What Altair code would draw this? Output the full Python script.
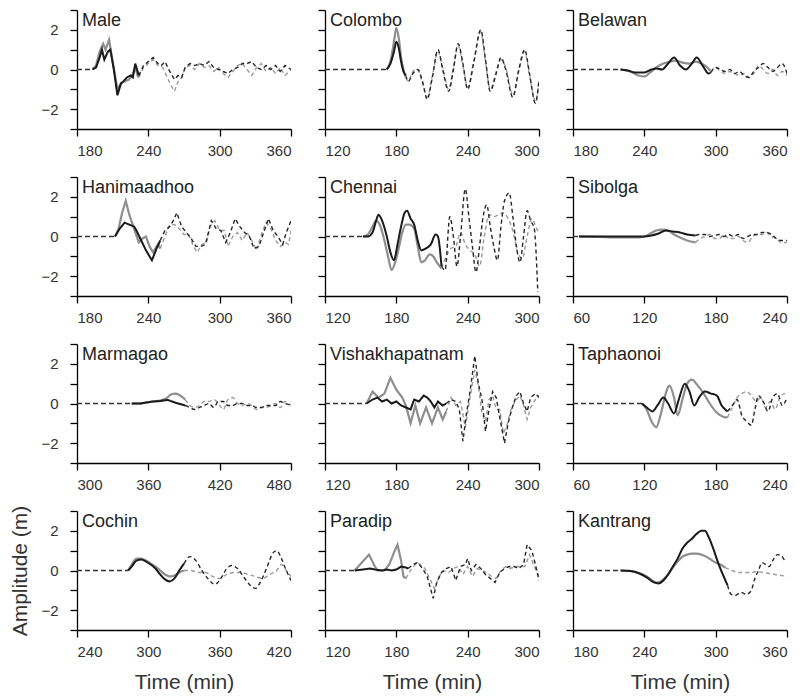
import altair as alt
import pandas as pd

STATIONS = ["Male", "Colombo", "Belawan", "Hanimaadhoo", "Chennai", "Sibolga",
            "Marmagao", "Vishakhapatnam", "Taphaonoi", "Cochin", "Paradip", "Kantrang"]
X_START = [180, 120, 180, 180, 120, 60, 300, 120, 60, 240, 120, 180]
LEAD_END = [193, 172, 220, 212, 152, 65, 346, 155, 118, 283, 145, 220]
SMOOTH = [False, True, True, False, True, True, True, False, True, True, False, True]

# ---- Male ----
MALE_BLACK = [(193,0),(196,0.1),(199,0.6),(201,1.0),(203,0.5),(206,0.9),(208,1.0),(211,0.0),(214,-1.3),(217,-0.7),(219,-0.6),(222,-0.4),(225,-0.3),(227,-0.4),(229,0.3),(231,-0.1),(232,-0.3)]
MALE_GRAY = [(193,0),(196,0.2),(199,0.9),(202,1.3),(204,1.0),(207,1.5),(210,0.4),(214,-1.0),(217,-0.7),(220,-0.6),(224,-0.5),(227,-0.2),(229,0.1),(231,-0.3),(232,-0.4)]
MALE_OBS_BLACK = [(232,-0.3),(236,0.2),(240,0.4),(244,0.6),(248,0.3),(251,0.2),(254,0.4),(258,-0.1),(262,-0.5),(265,-0.3),(268,-0.4),(271,0.1),(275,0.3),(279,0.2),(283,0.3),(287,0.2),(291,0.4),(295,0.1),(299,0.0),(303,-0.1),(307,-0.2),(311,0.0),(315,0.1),(319,0.3),(323,0.3),(327,0.4),(331,0.1),(335,0.0),(339,0.2),(343,0.0),(347,0.2),(351,-0.1),(355,0.2),(360,0.0)]
MALE_OBS_GRAY = [(232,-0.4),(236,0.1),(240,0.3),(244,0.5),(248,0.2),(252,0.1),(256,-0.4),(259,-0.8),(262,-1.1),(265,-0.6),(268,-0.4),(271,0.1),(275,0.2),(279,0.0),(283,0.3),(287,0.1),(291,0.2),(295,-0.1),(299,0.1),(303,-0.2),(307,-0.4),(311,-0.1),(315,0.2),(319,0.3),(323,0.0),(327,-0.3),(331,0.1),(335,0.3),(339,-0.1),(343,0.1),(347,-0.2),(351,0.1),(355,-0.3),(360,0.0)]

# ---- Colombo ----
COLOMBO_BLACK = [(172,0),(175,0.3),(178,0.9),(180,1.4),(182,1.1),(184,0.4),(186,-0.1),(188,-0.3)]
COLOMBO_GRAY = [(172,0),(175,0.4),(178,1.4),(180,2.1),(182,1.6),(184,0.6),(186,0.0),(188,-0.4)]
COLOMBO_OBS_BLACK = [(188,-0.3),(190,-0.6),(194,-0.2),(198,0.0),(202,-0.6),(206,-1.5),(210,-0.5),(215,1.0),(219,0.0),(224,-1.1),(228,0.0),(232,1.3),(236,0.3),(240,-1.0),(245,0.3),(251,2.0),(255,0.5),(259,-1.1),(264,-0.2),(268,0.6),(272,0.0),(278,-1.4),(283,0.0),(288,1.0),(292,-0.2),(297,-1.7),(300,-0.5)]
COLOMBO_OBS_GRAY = [(188,-0.4),(190,-0.6),(194,-0.1),(198,0.0),(202,-0.7),(206,-1.4),(210,-0.4),(215,0.9),(219,0.1),(224,-1.0),(228,0.1),(232,1.2),(236,0.2),(240,-0.9),(245,0.4),(251,1.9),(255,0.4),(259,-1.0),(264,-0.1),(268,0.5),(272,0.1),(278,-1.3),(283,-0.1),(288,0.9),(292,-0.3),(297,-1.6),(300,-0.6)]

# ---- Belawan ----
BELAWAN_BLACK = [(220,0),(226,-0.05),(232,-0.15),(240,-0.15),(246,0.0),(250,0.05),(255,0.0),(260,0.3),(265,0.6),(270,0.2),(275,0.0),(280,0.3),(284,0.6),(289,0.2),(294,-0.2),(296,-0.15)]
BELAWAN_GRAY = [(220,0),(228,-0.1),(235,-0.3),(240,-0.35),(245,-0.15),(250,0.1),(256,0.3),(262,0.4),(266,0.45),(272,0.35),(278,0.3),(283,0.4),(288,0.3),(293,0.1),(296,-0.1)]
BELAWAN_OBS_BLACK = [(296,-0.15),(300,0.1),(304,0.0),(308,-0.1),(312,0.0),(316,-0.2),(320,-0.1),(324,-0.3),(328,-0.4),(332,-0.1),(336,0.1),(340,0.3),(344,0.1),(348,-0.1),(352,0.1),(356,0.3),(360,-0.2)]
BELAWAN_OBS_GRAY = [(296,-0.1),(300,0.1),(304,-0.1),(308,-0.2),(312,-0.1),(316,-0.2),(320,-0.3),(324,-0.2),(328,-0.4),(332,-0.2),(336,0.2),(340,0.0),(344,-0.2),(348,0.0),(352,-0.3),(356,-0.1),(360,-0.3)]

# ---- Hanimaadhoo ----
HANI_BLACK = [(212,0),(216,0.4),(220,0.7),(224,0.6),(228,0.5),(230,0.3),(234,-0.2),(238,-0.7),(243,-1.2),(247,-0.6),(250,-0.2)]
HANI_GRAY = [(212,0),(215,0.4),(218,1.2),(221,1.8),(224,1.1),(228,0.4),(232,-0.3),(235,-0.1),(238,0.0),(241,-0.5),(244,-0.8),(248,-0.4),(250,-0.6)]
HANI_OBS_BLACK = [(250,-0.2),(254,0.3),(258,0.5),(261,0.8),(264,1.2),(268,0.5),(272,0.2),(276,-0.1),(280,-0.5),(284,-0.5),(288,-0.4),(293,0.8),(297,0.4),(301,0.3),(305,-0.3),(309,0.2),(313,0.9),(317,0.5),(321,0.2),(325,0.0),(329,-0.6),(333,-0.5),(337,0.2),(341,0.9),(345,0.3),(349,0.0),(353,-0.4),(356,0.2),(360,0.8)]
HANI_OBS_GRAY = [(250,-0.6),(254,0.0),(258,0.6),(262,0.6),(266,0.4),(270,0.1),(274,0.1),(278,-0.5),(281,-0.8),(285,-0.4),(289,-0.3),(292,0.5),(296,0.8),(300,0.3),(304,0.3),(307,-0.5),(311,0.0),(315,0.2),(319,-0.2),(323,0.2),(327,-0.2),(331,-0.7),(335,0.1),(339,0.7),(343,0.4),(347,-0.2),(351,-0.5),(355,-0.3),(358,-0.4),(360,0.3)]

# ---- Chennai ----
CHENNAI_BLACK = [(152,0),(156,0.0),(160,0.2),(163,0.8),(165,1.1),(168,0.8),(172,0.0),(175,-0.8),(178,-1.2),(181,-0.4),(184,0.5),(187,1.2),(189,1.3),(192,0.9),(195,0.6),(198,-0.2),(201,-0.7),(205,-0.6),(209,-0.4),(213,0.1),(215,0.0),(218,-1.5)]
CHENNAI_GRAY = [(152,0),(156,0.1),(160,0.5),(163,0.8),(166,0.6),(170,-0.2),(173,-1.0),(176,-1.7),(179,-1.3),(182,-0.6),(185,0.2),(188,0.6),(191,0.6),(195,0.4),(198,-0.5),(201,-1.3),(204,-1.2),(208,-0.9),(211,-1.0),(214,-1.3),(218,-1.6)]
CHENNAI_OBS_BLACK = [(218,-1.5),(221,-1.7),(225,1.0),(228,0.0),(231,-1.5),(234,0.0),(238,2.4),(241,1.0),(244,-0.5),(247,-1.8),(250,-0.5),(253,1.0),(256,1.6),(259,0.5),(262,-0.5),(265,-1.2),(268,0.5),(271,1.8),(275,2.2),(278,1.0),(281,-0.5),(284,-1.3),(287,0.0),(290,1.3),(293,0.8),(296,0.4),(299,-2.8)]
CHENNAI_OBS_GRAY = [(218,-1.6),(222,-1.0),(226,-0.6),(230,-0.5),(234,0.2),(238,-0.4),(242,-0.7),(246,-0.9),(250,-1.5),(254,0.0),(258,1.1),(262,1.0),(266,1.1),(270,1.2),(274,0.9),(278,0.3),(282,-0.8),(286,-1.1),(290,0.0),(294,0.9),(298,0.4),(300,0.2)]

# ---- Sibolga ----
SIBOLGA_BLACK = [(65,0),(80,0),(100,0),(115,0),(120,0.0),(126,0.05),(132,0.15),(138,0.3),(144,0.25),(150,0.2),(156,0.1),(163,0.05)]
SIBOLGA_GRAY = [(65,0),(80,-0.02),(100,-0.05),(115,-0.05),(120,0.0),(125,0.15),(130,0.3),(135,0.35),(140,0.3),(145,0.1),(150,-0.05),(156,-0.2),(163,-0.3)]
SIBOLGA_OBS_BLACK = [(163,0.05),(167,0.1),(171,0.1),(175,0.0),(179,0.05),(183,0.1),(187,0.0),(191,0.1),(195,0.0),(199,0.1),(203,-0.1),(207,0.0),(211,0.1),(215,0.1),(219,0.2),(223,0.2),(227,0.1),(231,-0.1),(235,-0.2),(240,-0.2)]
SIBOLGA_OBS_GRAY = [(163,-0.3),(167,-0.1),(171,0.0),(175,0.1),(179,-0.1),(183,-0.1),(187,0.1),(191,-0.1),(195,-0.1),(199,0.0),(203,-0.2),(207,-0.3),(211,0.0),(215,0.1),(219,0.1),(223,0.2),(227,0.0),(231,-0.1),(235,-0.3),(240,-0.3)]

# ---- Marmagao ----
MARMAGAO_BLACK = [(346,0),(352,0.0),(358,0.05),(364,0.1),(370,0.12),(376,0.18),(380,0.1),(385,0.0),(391,-0.1)]
MARMAGAO_GRAY = [(346,0),(352,0.0),(358,0.05),(364,0.1),(370,0.15),(375,0.25),(379,0.45),(383,0.5),(387,0.4),(391,0.2)]
MARMAGAO_OBS_BLACK = [(391,-0.1),(395,-0.2),(399,-0.3),(403,-0.2),(407,-0.1),(411,0.0),(415,-0.2),(419,0.1),(423,0.1),(427,-0.1),(431,-0.1),(435,0.0),(439,0.0),(443,-0.1),(447,-0.1),(451,-0.2),(455,-0.2),(459,-0.1),(463,-0.1),(467,-0.1),(471,0.1),(475,0.0),(480,-0.1)]
MARMAGAO_OBS_GRAY = [(391,0.2),(395,-0.1),(399,-0.2),(403,-0.1),(407,0.1),(411,0.1),(415,0.2),(419,0.0),(423,-0.3),(427,0.2),(431,0.3),(435,0.0),(439,-0.1),(443,0.0),(447,-0.1),(451,-0.3),(455,-0.2),(459,-0.2),(463,-0.1),(467,0.0),(471,-0.2),(475,0.1),(480,-0.1)]

# ---- Vishakhapatnam ----
VISHA_BLACK = [(155,0),(160,0.2),(164,0.3),(168,0.1),(172,0.2),(176,0.0),(180,0.1),(184,-0.1),(188,-0.2),(192,-0.3),(195,0.2),(199,0.1),(203,0.4),(206,0.3),(209,0.1),(212,-0.2),(215,0.1),(219,-0.1),(222,0.0)]
VISHA_GRAY = [(155,0),(160,0.6),(165,0.3),(170,0.5),(175,1.3),(180,0.7),(185,0.3),(188,-0.1),(192,-1.0),(196,-0.1),(200,-1.0),(205,-0.2),(210,-1.0),(215,-0.2),(219,-0.8),(222,-0.4)]
VISHA_OBS_BLACK = [(222,0.0),(226,0.2),(230,0.1),(233,-0.3),(236,-1.9),(239,-0.5),(242,0.6),(246,2.4),(249,1.0),(252,0.2),(255,-1.4),(258,-0.3),(261,0.6),(264,0.3),(267,-0.7),(271,-2.0),(274,-1.0),(277,-0.3),(281,0.4),(284,0.6),(287,0.0),(290,-0.4),(293,0.3),(297,0.5),(300,0.3)]
VISHA_OBS_GRAY = [(222,-0.4),(226,0.3),(230,-0.1),(234,0.1),(238,-1.2),(242,0.3),(246,1.7),(249,0.9),(252,-0.5),(255,-0.9),(258,0.2),(261,0.4),(264,-0.3),(267,-0.3),(270,-1.5),(273,-1.1),(277,-0.2),(281,0.2),(284,0.4),(287,-0.1),(290,-0.8),(293,-0.2),(297,0.2),(300,0.4)]

# ---- Taphaonoi ----
TAPHA_BLACK = [(118,0),(122,-0.2),(127,-0.4),(131,-0.1),(136,0.3),(140,0.0),(145,-0.5),(149,0.2),(154,1.0),(158,0.6),(162,-0.1),(166,0.3),(171,0.6),(176,0.5),(181,0.4),(185,-0.1),(188,-0.3),(190,-0.4)]
TAPHA_GRAY = [(118,0),(122,-0.3),(126,-0.9),(130,-1.2),(134,-0.5),(138,0.5),(141,0.9),(145,0.3),(148,-0.6),(152,0.2),(156,1.0),(160,1.2),(165,0.9),(170,0.5),(175,0.0),(180,-0.4),(184,-0.6),(188,-0.7),(190,-0.7)]
TAPHA_OBS_BLACK = [(190,-0.4),(194,-0.1),(198,0.2),(202,-0.6),(206,-0.9),(210,-1.1),(213,-0.3),(216,0.4),(220,0.1),(224,-0.4),(228,0.3),(232,0.5),(236,-0.1),(240,0.3)]
TAPHA_OBS_GRAY = [(190,-0.7),(194,-0.2),(198,0.3),(202,0.5),(206,0.6),(210,0.4),(214,0.1),(218,0.3),(222,-0.2),(226,0.1),(230,-0.3),(234,0.3),(238,0.5),(240,0.4)]

# ---- Cochin ----
COCHIN_BLACK = [(283,0),(286,0.2),(290,0.5),(294,0.55),(298,0.45),(302,0.3),(306,0.1),(310,-0.2),(314,-0.45),(318,-0.55),(322,-0.4),(326,0.0),(330,0.35)]
COCHIN_GRAY = [(283,0),(286,0.3),(290,0.6),(294,0.6),(298,0.5),(302,0.35),(306,0.2),(310,0.0),(314,-0.2),(318,-0.3),(322,-0.25),(326,-0.1),(330,0.0)]
COCHIN_OBS_BLACK = [(330,0.35),(335,0.7),(340,0.5),(345,0.0),(350,-0.4),(356,-0.7),(361,-0.4),(366,0.1),(370,0.25),(375,0.1),(380,-0.3),(385,-0.7),(390,-0.9),(395,-0.5),(400,0.2),(405,0.9),(408,1.0),(412,0.6),(416,0.0),(420,-0.5)]
COCHIN_OBS_GRAY = [(330,0.0),(336,0.0),(342,-0.1),(348,-0.1),(354,-0.3),(360,-0.4),(366,-0.2),(372,-0.1),(378,-0.1),(384,-0.2),(390,-0.3),(396,-0.4),(402,-0.2),(408,0.0),(412,0.3),(416,0.0),(420,-0.3)]

# ---- Paradip ----
PARADIP_BLACK = [(145,0),(152,0.05),(158,0.1),(162,0.05),(168,0.0),(172,0.05),(176,0.0),(180,0.05),(184,0.2),(188,0.15),(190,0.1)]
PARADIP_GRAY = [(145,0),(151,0.4),(157,0.8),(162,0.2),(164,0.0),(170,0.0),(174,0.3),(178,0.9),(181,1.3),(184,0.5),(186,-0.3),(188,-0.4)]
PARADIP_OBS_BLACK = [(190,0.1),(194,0.3),(198,0.4),(202,0.1),(206,-0.3),(211,-1.4),(214,-0.6),(218,-0.1),(222,0.1),(226,0.2),(230,-0.5),(234,0.2),(238,0.3),(240,0.6),(243,0.0),(247,0.3),(251,0.1),(255,-0.2),(259,-0.4),(263,-0.6),(267,-0.1),(271,0.1),(275,0.2),(279,0.2),(283,0.1),(287,0.3),(290,1.3),(294,1.0),(297,0.3),(300,-0.5)]
PARADIP_OBS_GRAY = [(188,-0.4),(192,0.0),(197,0.4),(200,0.3),(204,0.1),(208,-0.4),(212,-0.9),(216,-0.3),(220,0.0),(224,-0.1),(228,0.1),(232,0.2),(236,-0.2),(240,0.2),(244,-0.3),(248,0.1),(252,0.0),(256,-0.1),(260,-0.3),(264,-0.4),(268,0.0),(272,0.2),(276,0.1),(280,0.2),(284,0.2),(288,0.2),(292,0.8),(296,0.2),(300,-0.3)]

# ---- Kantrang ----
KANTRANG_BLACK = [(220,0),(228,-0.02),(236,-0.15),(242,-0.35),(248,-0.6),(252,-0.65),(256,-0.5),(260,-0.2),(264,0.2),(268,0.6),(272,1.1),(276,1.4),(280,1.6),(284,1.85),(288,2.0),(291,2.0),(294,1.7),(298,1.1),(302,0.4),(306,-0.2),(310,-0.75)]
KANTRANG_GRAY = [(220,0),(228,-0.02),(236,-0.15),(242,-0.3),(248,-0.55),(252,-0.6),(256,-0.45),(260,-0.2),(264,0.15),(268,0.45),(272,0.7),(276,0.8),(280,0.85),(284,0.85),(288,0.8),(292,0.7),(296,0.55),(300,0.4),(304,0.3),(308,0.15)]
KANTRANG_OBS_BLACK = [(310,-0.75),(313,-1.2),(317,-1.25),(321,-1.1),(326,-1.2),(330,-1.0),(333,-0.4),(336,0.0),(339,0.4),(342,0.3),(345,0.2),(348,0.5),(352,0.8),(355,0.75),(358,0.5)]
KANTRANG_OBS_GRAY = [(308,0.15),(312,0.05),(316,-0.05),(320,-0.1),(325,-0.1),(330,-0.1),(335,-0.05),(340,-0.1),(345,-0.15),(350,-0.2),(355,-0.25),(360,-0.3)]

BLACK = [MALE_BLACK, COLOMBO_BLACK, BELAWAN_BLACK, HANI_BLACK, CHENNAI_BLACK, SIBOLGA_BLACK,
         MARMAGAO_BLACK, VISHA_BLACK, TAPHA_BLACK, COCHIN_BLACK, PARADIP_BLACK, KANTRANG_BLACK]
GRAY = [MALE_GRAY, COLOMBO_GRAY, BELAWAN_GRAY, HANI_GRAY, CHENNAI_GRAY, SIBOLGA_GRAY,
        MARMAGAO_GRAY, VISHA_GRAY, TAPHA_GRAY, COCHIN_GRAY, PARADIP_GRAY, KANTRANG_GRAY]
OBS_BLACK = [MALE_OBS_BLACK, COLOMBO_OBS_BLACK, BELAWAN_OBS_BLACK, HANI_OBS_BLACK, CHENNAI_OBS_BLACK,
             SIBOLGA_OBS_BLACK, MARMAGAO_OBS_BLACK, VISHA_OBS_BLACK, TAPHA_OBS_BLACK, COCHIN_OBS_BLACK,
             PARADIP_OBS_BLACK, KANTRANG_OBS_BLACK]
OBS_GRAY = [MALE_OBS_GRAY, COLOMBO_OBS_GRAY, BELAWAN_OBS_GRAY, HANI_OBS_GRAY, CHENNAI_OBS_GRAY,
            SIBOLGA_OBS_GRAY, MARMAGAO_OBS_GRAY, VISHA_OBS_GRAY, TAPHA_OBS_GRAY, COCHIN_OBS_GRAY,
            PARADIP_OBS_GRAY, KANTRANG_OBS_GRAY]

FONT = "Liberation Sans"
STYLES = [
    ("lead", "#333333", 1.4, [5, 3]),
    ("obs_gray", "#9a9a9a", 1.4, [4, 3]),
    ("obs_black", "#262626", 1.4, [4, 3]),
    ("gray", "#8e8e8e", 2.2, None),
    ("black", "#1a1a1a", 2.0, None),
]


def make_panel(i):
    x0 = X_START[i]
    col = i % 3
    row = i // 3
    rows = [dict(t=x0, v=0.0, s="lead"), dict(t=LEAD_END[i], v=0.0, s="lead")]
    for name, ser in [("obs_gray", OBS_GRAY[i]), ("obs_black", OBS_BLACK[i]),
                      ("gray", GRAY[i]), ("black", BLACK[i])]:
        rows += [dict(t=t, v=v, s=name) for t, v in ser]
    df = pd.DataFrame(rows)

    x_axis = alt.Axis(values=[x0, x0 + 60, x0 + 120, x0 + 180],
                      title="Time (min)" if row == 3 else None,
                      labelPadding=7, titlePadding=12)
    if col == 0:
        y_axis = alt.Axis(values=[-3, -2, -1, 0, 1, 2, 3],
                          labelExpr="(datum.value == 2 || datum.value == 0 || datum.value == -2) ? datum.label : ''",
                          title="Amplitude (m)" if i == 9 else None,
                          labelPadding=12, titlePadding=10)
    else:
        y_axis = alt.Axis(values=[-3, -2, -1, 0, 1, 2, 3], labels=False, title=None)

    x = alt.X("t:Q", scale=alt.Scale(domain=[x0, x0 + 180], nice=False, zero=False), axis=x_axis)
    y = alt.Y("v:Q", scale=alt.Scale(domain=[-3, 3], nice=False), axis=y_axis)

    interp = "monotone" if SMOOTH[i] else "linear"
    base = alt.Chart(df)
    layers = []
    for name, color, width, dash in STYLES:
        kw = dict(color=color, strokeWidth=width, interpolate=interp, clip=True)
        if dash:
            kw["strokeDash"] = dash
        layers.append(base.transform_filter(alt.datum.s == name).mark_line(**kw).encode(x=x, y=y))

    label = alt.Chart(pd.DataFrame({"name": [STATIONS[i]]})).mark_text(
        align="left", baseline="top", fontSize=18, font=FONT, color="#222222"
    ).encode(x=alt.value(5), y=alt.value(2), text="name:N")
    layers.append(label)

    return alt.layer(*layers).properties(width=214, height=119)


panels = [make_panel(i) for i in range(12)]

chart = alt.concat(*panels, columns=3, spacing={"row": 48, "column": 34}, bounds="flush").properties(
    padding={"left": 1, "top": 1, "right": 5, "bottom": 5},
    background="white",
).configure_view(stroke=None).configure_axis(
    grid=False,
    domainColor="#000000",
    domainWidth=1.3,
    tickColor="#000000",
    tickWidth=1.3,
    tickSize=7,
    labelFont=FONT,
    labelFontSize=15,
    labelColor="#333333",
    titleFont=FONT,
    titleFontSize=21,
    titleFontWeight="normal",
    titleColor="#333333",
)

chart.save("out.html", embed_options={"renderer": "svg", "actions": False})
